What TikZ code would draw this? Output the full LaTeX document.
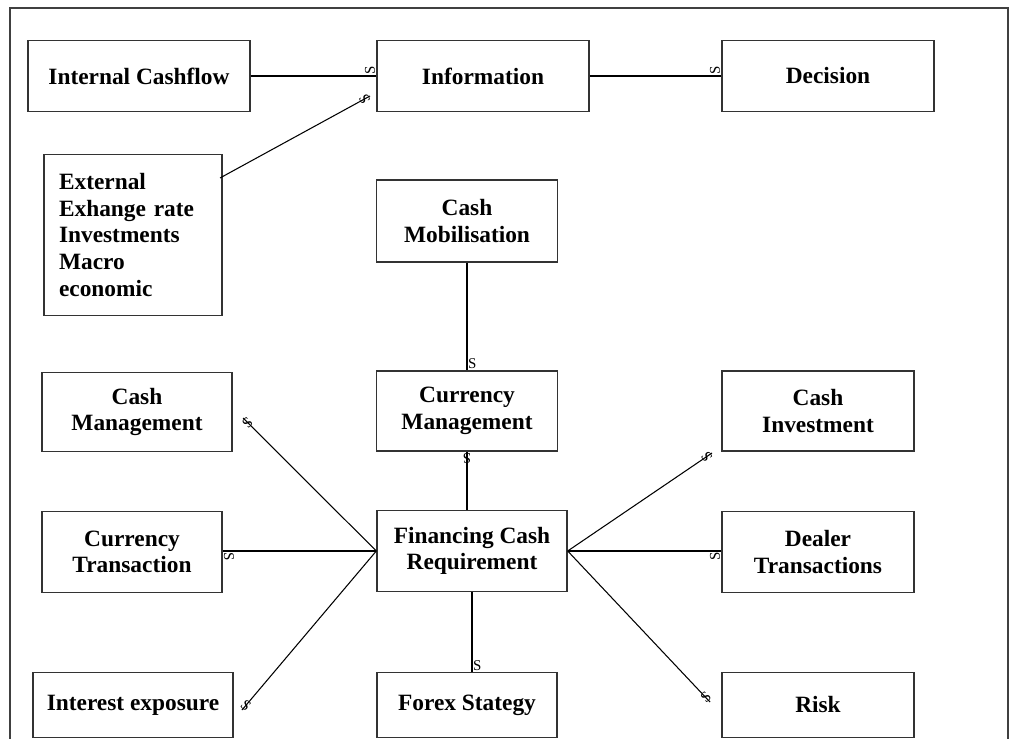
\documentclass[tikz,border=0pt]{standalone}
\usepackage{fontspec}
\setmainfont{Liberation Serif}

\tikzset{
  blk/.style={draw, line width=0.8pt, draw=black!80, font=\fontsize{13.3}{15.1}\selectfont\bfseries,
    align=center, inner sep=0pt},
  smark/.style={pos=1, sloped, allow upside down, rotate=90, anchor=south, inner sep=0.4pt,
    font=\fontsize{8.5}{8.5}\selectfont},
  sleft/.style={smark, anchor=south west},
  sright/.style={smark, anchor=south east},
}

\begin{document}
\begin{tikzpicture}[x=0.02cm, y=-0.02cm, line width=0.6pt]
        \useasboundingbox (0,0) rectangle (1020,739);
        \draw[black!75, line width=0.8pt] (10,745) -- (10,8) -- (1008,8) -- (1008,745);

        % top row
        \node[blk, minimum width=4.44cm, minimum height=1.42cm] at (139,76) (ic) {Internal Cashflow};
        \node[blk, minimum width=4.24cm, minimum height=1.42cm] at (483,76) (info) {Information};
        \node[blk, minimum width=4.24cm, minimum height=1.42cm] at (828,76) (dec) {Decision};
        \node[blk, minimum width=3.56cm, minimum height=3.22cm, align=left, text width=2.96cm] at (133,235) (ext) {External\\Exhange rate\\Investments\\Macro\\economic};

        % middle column
        \node[blk, minimum width=3.62cm, minimum height=1.64cm] at (467,221) (mob) {Cash\\Mobilisation};
        \node[blk, minimum width=3.62cm, minimum height=1.6cm] at (467,411) (cur) {Currency\\Management};
        \node[blk, minimum width=3.8cm, minimum height=1.62cm] at (472,551) (fin) {Financing Cash\\Requirement};
        \node[blk, minimum width=3.6cm, minimum height=1.3cm] at (467,705) (fx) {Forex Stategy};

        % left column
        \node[blk, minimum width=3.8cm, minimum height=1.58cm] at (137,412) (cm) {Cash\\Management};
        \node[blk, minimum width=3.6cm, minimum height=1.62cm] at (132,552) (ct) {Currency\\Transaction};
        \node[blk, minimum width=4cm, minimum height=1.3cm] at (133,705) (ie) {Interest exposure};

        % right column
        \node[blk, minimum width=3.84cm, minimum height=1.6cm] at (818,411) (ci) {Cash\\Investment};
        \node[blk, minimum width=3.84cm, minimum height=1.62cm] at (818,552) (dt) {Dealer\\Transactions};
        \node[blk, minimum width=3.84cm, minimum height=1.3cm] at (818,705) (risk) {Risk};

        % free ends
        \coordinate (extout) at (220,178);
        \coordinate (infoin) at (370,96);
        \coordinate (cmin) at (243,418);
        \coordinate (iein) at (242,710);
        \coordinate (ciin) at (712,453);
        \coordinate (riskin) at (710,702);

        \draw (ic.east) -- (info.west) node[sleft] {S};
        \draw (info.east) -- (dec.west) node[sleft] {S};
        \draw (extout) -- (infoin) node[smark] {S};
        \draw (mob.south) -- (cur.north) node[sleft] {S};
        \draw (cur.south |- fin.north) -- (cur.south) node[smark] {S};
        \draw (fin.west) -- (cmin) node[smark] {S};
        \draw (fin.west) -- (fin.west -| ct.east) node[sleft] {S};
        \draw (fin.west) -- (iein) node[smark] {S};
        \draw (fin.east) -- (ciin) node[smark] {S};
        \draw (fin.east) -- (fin.east -| dt.west) node[sright] {S};
        \draw (fin.east) -- (riskin) node[smark] {S};
        \draw (fin.south) -- (fin.south |- fx.north) node[sleft] {S};

    \end{tikzpicture}
\end{document}
